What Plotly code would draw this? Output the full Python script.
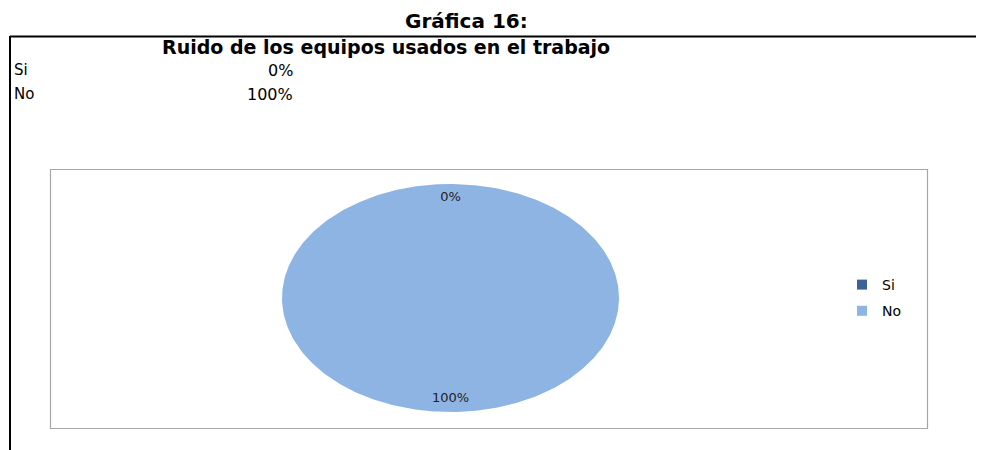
import numpy as np
import plotly.graph_objects as go

# ---- data ----
categories = ["Si", "No"]
values = [0, 100]
value_labels = ["0%", "100%"]
colors = ["#3B6496", "#8EB4E3"]
page_title = "Gráfica 16:"
chart_title = "Ruido de los equipos usados en el trabajo"

W, H = 984, 450
OFF = 8  # page body margin: data coords == screen pixels
fig = go.Figure()

# pie drawn as an ellipse (the reference pie is stretched horizontally)
cx, cy, rx, ry = 450.5, 298, 168.5, 114
total = float(sum(values))
label_pts = []
start = 0.0
for cat, val, lab, col in zip(categories, values, value_labels, colors):
    frac = val / total
    t = np.linspace(start, start + frac, max(2, int(400 * frac) + 2))
    theta = np.pi / 2 - 2 * np.pi * t
    xs = np.concatenate([[cx], cx + rx * np.cos(theta), [cx]])
    ys = np.concatenate([[cy], cy - ry * np.sin(theta), [cy]])
    fig.add_trace(go.Scatter(x=xs, y=ys, mode="lines", fill="toself",
                             fillcolor=col, line=dict(width=0, color=col),
                             hoverinfo="skip", showlegend=False,
                             legendgroup=cat))
    mid = np.pi / 2 - 2 * np.pi * (start + frac / 2)
    label_pts.append((cx + 0.87 * rx * np.cos(mid), cy - 0.88 * ry * np.sin(mid), lab))
    start += frac

# slice labels on top of all slices
fig.add_trace(go.Scatter(x=[p[0] for p in label_pts], y=[p[1] for p in label_pts],
                         mode="text", text=[p[2] for p in label_pts],
                         textfont=dict(family="DejaVu Sans", size=13, color="#222222"),
                         showlegend=False, hoverinfo="skip"))

# legend entries
for cat, col in zip(categories, colors):
    fig.add_trace(go.Scatter(x=[None], y=[None], mode="markers", name=cat,
                             legendgroup=cat,
                             marker=dict(symbol="square", size=10, color=col)))

# frame lines and inner chart box
fig.add_shape(type="line", x0=10, x1=W + OFF, y0=36.5, y1=36.5,
              line=dict(color="black", width=2), xref="x", yref="y")
fig.add_shape(type="line", x0=10, x1=10, y0=36, y1=H + OFF,
              line=dict(color="black", width=2), xref="x", yref="y")
fig.add_shape(type="rect", x0=50.5, x1=927.5, y0=169.5, y1=428.5,
              line=dict(color="#A6A6A6", width=1.2), xref="x", yref="y",
              layer="below")

# titles
fig.add_annotation(x=466, y=21, text="<b>" + page_title + "</b>", showarrow=False,
                   font=dict(family="DejaVu Sans", size=20, color="black"),
                   xref="x", yref="y")
fig.add_annotation(x=386, y=47, text="<b>" + chart_title + "</b>", showarrow=False,
                   font=dict(family="DejaVu Sans", size=19, color="black"),
                   xref="x", yref="y")

# data table
for i, (cat, lab) in enumerate(zip(categories, value_labels)):
    y = 70 + 24 * i
    fig.add_annotation(x=12, y=y, text=cat, showarrow=False, xanchor="left",
                       font=dict(family="DejaVu Sans", size=15, color="black"),
                       xref="x", yref="y")
    fig.add_annotation(x=295, y=y, text=lab, showarrow=False, xanchor="right",
                       font=dict(family="DejaVu Sans", size=16, color="black"),
                       xref="x", yref="y")

fig.update_layout(
    width=W, height=H,
    margin=dict(l=0, r=0, t=0, b=0),
    paper_bgcolor="white", plot_bgcolor="white",
    xaxis=dict(range=[OFF, W + OFF], visible=False, fixedrange=True),
    yaxis=dict(range=[H + OFF, OFF], visible=False, fixedrange=True),
    legend=dict(x=(842 - OFF) / W, y=1 - (269 - OFF) / H, xanchor="left", yanchor="top",
                font=dict(family="DejaVu Sans", size=14, color="black"),
                itemwidth=30, traceorder="grouped", tracegroupgap=5,
                bgcolor="rgba(0,0,0,0)"),
    showlegend=True,
)

fig.write_html("out.html")
